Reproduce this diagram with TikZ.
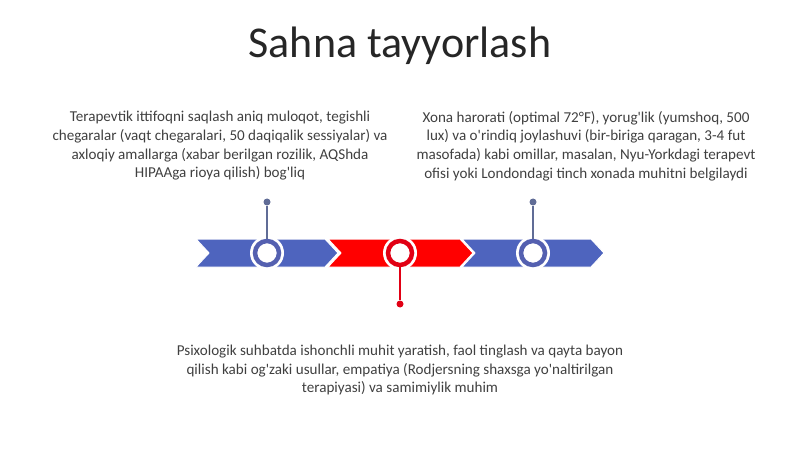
\documentclass[tikz,border=0pt]{standalone}
\usepackage{fontspec}
\setmainfont{Carlito}[Ligatures=TeXOff]
\definecolor{bandblue}{RGB}{78,100,190}
\definecolor{ringblue}{RGB}{84,96,176}
\definecolor{pinblue}{RGB}{96,108,150}
\definecolor{bandred}{RGB}{255,0,0}
\definecolor{ringred}{RGB}{225,0,20}
\definecolor{txt}{RGB}{64,64,64}
\definecolor{titletxt}{RGB}{38,38,38}
\begin{document}
\begin{tikzpicture}[x=1pt,y=-1pt,
  band/.style={draw=white,line width=1pt},
  ring/.style={circle,minimum size=24pt,inner sep=0pt,fill=white,line width=4.5pt},
  halo/.style={circle,minimum size=34pt,inner sep=0pt,fill=white},
  pin/.style={line width=1.2pt},
  pindot/.style={circle,minimum size=7pt,inner sep=0pt},
  body/.style={align=center,text=txt,font=\fontsize{15.1}{18.7}\selectfont}
]
\useasboundingbox (0,0) rectangle (800,449);
\node[text=titletxt,font=\fontsize{44}{50}\selectfont] (title) at (400,46) {Sahna tayyorlash};
% chevrons
\fill[bandblue,band] (196,239) -- (325,239) -- (338,253) -- (325,267) -- (196,267) -- (209,253) -- cycle;
\fill[bandred,band] (328,239) -- (460,239) -- (473,253) -- (460,267) -- (328,267) -- (341,253) -- cycle;
\fill[bandblue,band] (462,239) -- (591,239) -- (604,253) -- (591,267) -- (462,267) -- (475,253) -- cycle;
% circles
\node[halo] (h1) at (267,253) {};
\node[halo] (h2) at (400,253) {};
\node[halo] (h3) at (533,253) {};
\node[ring,draw=ringblue] (c1) at (267,253) {};
\node[ring,draw=ringred] (c2) at (400,253) {};
\node[ring,draw=ringblue] (c3) at (533,253) {};
% pins
\node[pindot,fill=pinblue] (d1) at (267,202) {};
\node[pindot,fill=ringred] (d2) at (400,304) {};
\node[pindot,fill=pinblue] (d3) at (533,202) {};
\draw[pin,pinblue] (d1) -- (c1);
\draw[pin,ringred] (c2) -- (d2);
\draw[pin,pinblue] (d3) -- (c3);
% texts
\node[body] (t1) at (220,146) {Terapevtik ittifoqni saqlash aniq muloqot, tegishli\\chegaralar (vaqt chegaralari, 50 daqiqalik sessiyalar) va\\axloqiy amallarga (xabar berilgan rozilik, AQShda\\HIPAAga rioya qilish) bog'liq};
\node[body] (t3) at (586,146) {Xona harorati (optimal 72°F), yorug'lik (yumshoq, 500\\lux) va o'rindiq joylashuvi (bir-biriga qaragan, 3-4 fut\\masofada) kabi omillar, masalan, Nyu-Yorkdagi terapevt\\ofisi yoki Londondagi tinch xonada muhitni belgilaydi};
\node[body] (t2) at (400,370) {Psixologik suhbatda ishonchli muhit yaratish, faol tinglash va qayta bayon\\qilish kabi og'zaki usullar, empatiya (Rodjersning shaxsga yo'naltirilgan\\terapiyasi) va samimiylik muhim};
\end{tikzpicture}
\end{document}
